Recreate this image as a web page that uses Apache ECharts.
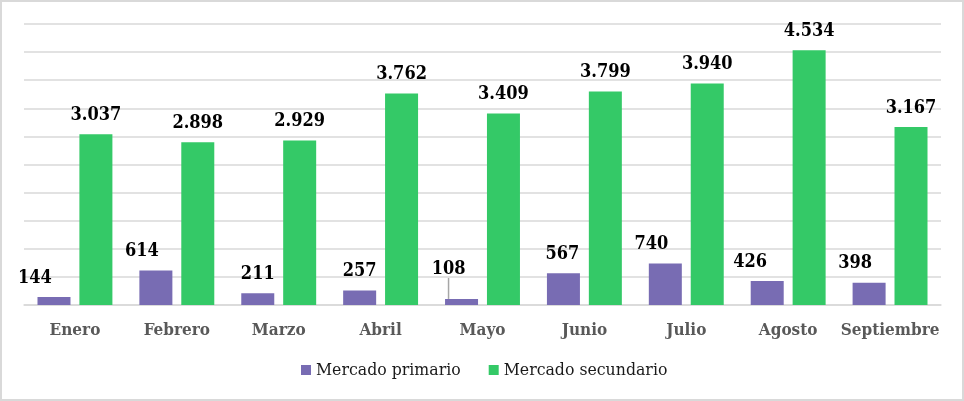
<!DOCTYPE html>
<html>
<head>
<meta charset="utf-8">
<script src="https://cdn.jsdelivr.net/npm/echarts@6/dist/echarts.min.js"></script>
<style>
html,body{margin:0;padding:0;background:#fff;}
#c{width:964px;height:401px;box-sizing:border-box;border:2px solid #d9d9d9;}
</style>
</head>
<body>
<div id="c"></div>
<script>
var categories = ['Enero','Febrero','Marzo','Abril','Mayo','Junio','Julio','Agosto','Septiembre'];
var primario = [144, 614, 211, 257, 108, 567, 740, 426, 398];
var secundario = [3037, 2898, 2929, 3762, 3409, 3799, 3940, 4534, 3167];
var seriesNames = ['Mercado primario', 'Mercado secundario'];
var primarioLabelShift = [-19, -14, 0, 0, -13, -1, -14, -17, -14];

var FONT = "'DejaVu Serif Condensed', 'DejaVu Serif', serif";
function fmt(v){ return String(v).replace(/\B(?=(\d{3})+(?!\d))/g, '.'); }

var chart = echarts.init(document.getElementById('c'), null, {renderer:'canvas'});
var primData = primario.map(function(v, i){
  var item = {value: v};
  if (i === 4) {
    item.labelLine = {show: true, lineStyle: {color: '#a6a6a6', width: 1.5}};
  }
  return item;
});
chart.setOption({
  animation: false,
  grid: {left: 22, right: 21, top: 22, bottom: 94},
  legend: {
    bottom: 15, left: 294,
    itemWidth: 10, itemHeight: 10, itemGap: 28,
    icon: 'rect',
    textStyle: {fontFamily: FONT, fontSize: 17.5, color: '#1a1a1a'},
    data: seriesNames
  },
  xAxis: {
    type: 'category', data: categories,
    axisLine: {lineStyle: {color: '#d9d9d9', width: 1.5}},
    axisTick: {show: false},
    axisLabel: {interval: 0, fontFamily: FONT, fontWeight: 'bold', fontSize: 17, color: '#595959', margin: 17}
  },
  yAxis: {
    type: 'value', min: 0, max: 5000, interval: 500,
    axisLabel: {show: false},
    axisLine: {show: false}, axisTick: {show: false},
    splitLine: {lineStyle: {color: '#d9d9d9', width: 1.5}}
  },
  series: [
    {
      name: seriesNames[0], type: 'bar', data: primData,
      barWidth: 33, barGap: '27%',
      itemStyle: {color: '#786cb3'},
      label: {show: true, position: 'top', distance: 10, fontFamily: FONT, fontWeight: 'bold', fontSize: 18, color: '#000',
        formatter: function(p){ return fmt(p.value); }},
      labelLayout: function(p){
        var dy = p.dataIndex === 4 ? -11 : 0;
        return {dx: primarioLabelShift[p.dataIndex], dy: dy};
      }
    },
    {
      name: seriesNames[1], type: 'bar', data: secundario,
      barWidth: 33, barGap: '27%',
      itemStyle: {color: '#34c967'},
      label: {show: true, position: 'top', distance: 10, fontFamily: FONT, fontWeight: 'bold', fontSize: 18, color: '#000',
        formatter: function(p){ return fmt(p.value); }}
    }
  ]
});
</script>
</body>
</html>
